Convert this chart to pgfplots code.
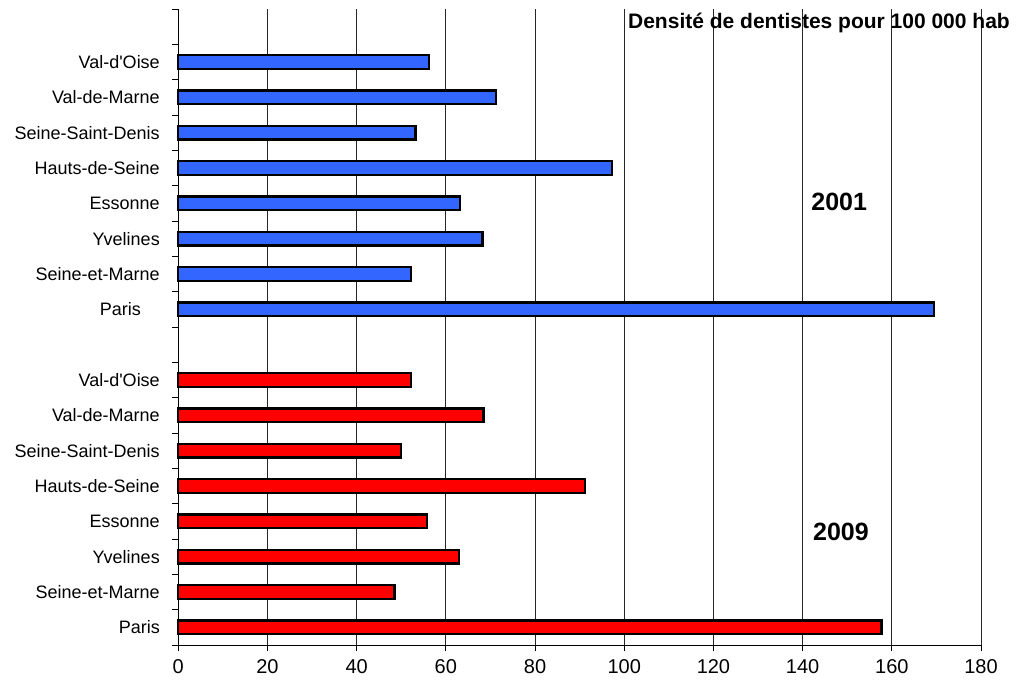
\documentclass[border=0pt]{standalone}
\usepackage{pgfplots}
\pgfplotsset{compat=1.18}
\usepackage{fontspec}
\setmainfont{Liberation Sans}

\definecolor{bar2001}{RGB}{51,102,255}
\definecolor{bar2009}{RGB}{255,0,0}

% Densité de dentistes pour 100 000 habitants, par département d'Ile-de-France
% y = position of the bar (2009 at 1..8, 2001 at 10..17)
\pgfplotstableread{
val   pos
56.2  17
71.2  16
53.2  15
97.3  14
63.2  13
68.2  12
52.2  11
169.5 10
}\densiteA
\pgfplotstableread{
val   pos
52.2  8
68.4  7
50.0  6
91.2  5
55.8  4
63.0  3
48.5  2
157.7 1
}\densiteB

\begin{document}
\begin{tikzpicture}
\begin{axis}[
  scale only axis,
  width=802.7pt, height=636pt,
  xmin=0, xmax=180, ymin=0.5, ymax=18.5,
  axis lines=left,
  axis line style={-, line width=0.9pt, black},
  clip=false,
  xtick={0,20,...,180},
  xmajorgrids,
  major grid style={black!85, line width=0.8pt},
  ytick={1,2,3,4,5,6,7,8,10,11,12,13,14,15,16,17},
  yticklabels={Paris, Seine-et-Marne, Yvelines, Essonne, Hauts-de-Seine,
    Seine-Saint-Denis, Val-de-Marne, Val-d\textquotesingle Oise,
    Paris\hspace*{19pt}\null, Seine-et-Marne, Yvelines, Essonne, Hauts-de-Seine,
    Seine-Saint-Denis, Val-de-Marne, Val-d\textquotesingle Oise},
  minor ytick={0.5,1.5,...,18.5},
  tick align=outside,
  major tick length=6pt,
  minor tick length=6pt,
  major y tick style={draw=none},
  minor y tick style={black, line width=0.8pt},
  major x tick style={black, line width=0.8pt},
  /pgf/number format/assume math mode=true,
  xticklabel style={font=\fontsize{20}{22}\selectfont, yshift=-5pt},
  yticklabel style={font=\fontsize{18}{20}\selectfont, xshift=-9pt},
  xbar, bar width=13.5pt, bar shift=0pt,
]
\addplot[fill=bar2001, draw=black, line width=2.4pt] table[x=val, y=pos] {\densiteA};
\addplot[fill=bar2009, draw=black, line width=2.4pt] table[x=val, y=pos] {\densiteB};

\node[anchor=base east, font=\bfseries\fontsize{21}{23}\selectfont, inner sep=0pt]
  at (axis cs:186.5,17.96) {Densité de dentistes pour 100 000 hab};
\node[font=\bfseries\fontsize{25}{27}\selectfont, inner sep=0pt]
  at (axis cs:148.2,13.05) {2001};
\node[font=\bfseries\fontsize{25}{27}\selectfont, inner sep=0pt]
  at (axis cs:148.6,3.70) {2009};
\end{axis}
\pgfresetboundingbox
\path[use as bounding box] (-178.3pt,-43pt) rectangle (840.7pt,645pt);
\end{tikzpicture}
\end{document}
